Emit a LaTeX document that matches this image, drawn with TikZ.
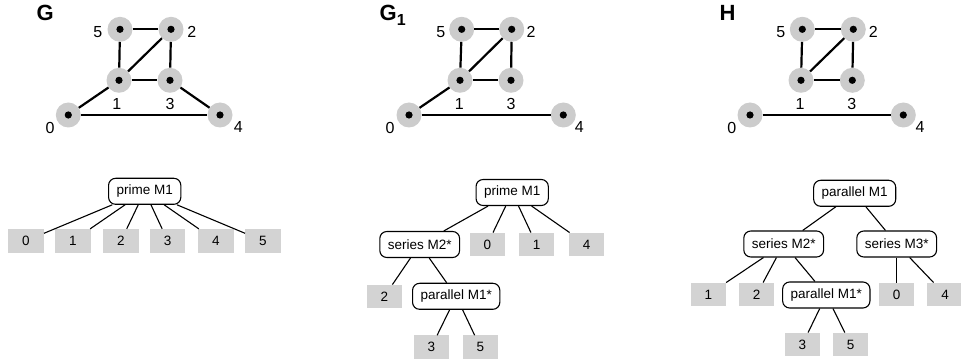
\documentclass[tikz,border=0pt]{standalone}
\usepackage{fontspec}
\setmainfont{Liberation Sans}
\definecolor{vgray}{RGB}{204,204,204}
\definecolor{lgray}{RGB}{211,211,211}
\begin{document}
\begin{tikzpicture}[x=1pt,y=-1pt,
 vtx/.style={circle,fill=vgray,minimum size=25pt,inner sep=0pt,
   path picture={\fill[black] (path picture bounding box.center) circle (3.6pt);}},
 gedge/.style={line width=2.2pt},
 lbl/.style={font=\fontsize{16}{16}\selectfont,inner sep=0pt,anchor=base},
 ttl/.style={font=\fontsize{22}{22}\selectfont\bfseries,inner sep=0pt,anchor=base west},
 modbox/.style={draw,rounded corners=7pt,line width=1.1pt,font=\fontsize{13.5}{13.5}\selectfont,
   minimum height=26pt,inner xsep=8pt,inner ysep=0pt,fill=white},
 leaf/.style={fill=lgray,minimum width=35.5pt,minimum height=23.5pt,inner sep=0pt,
   font=\fontsize{13.5}{13.5}\selectfont},
 tedge/.style={line width=1.1pt}]
\useasboundingbox (0,0) rectangle (961,363);

% ---------- G ----------
\node[ttl] (tG) at (36.5,20.7) {G};
\node[vtx] (a5) at (120,29.3) {};
\node[vtx] (a2) at (171,29.3) {};
\node[vtx] (a1) at (119,80.3) {};
\node[vtx] (a3) at (170,80.3) {};
\node[vtx] (a0) at (68.3,115) {};
\node[vtx] (a4) at (220,115) {};
\node[lbl] (la5) at (97.7,37.3) {5};
\node[lbl] (la2) at (191.7,37.3) {2};
\node[lbl] (la1) at (116.7,109.3) {1};
\node[lbl] (la3) at (170,109.3) {3};
\node[lbl] (la0) at (50,133.3) {0};
\node[lbl] (la4) at (238.3,132.7) {4};
\draw[gedge] (a5) -- (a2);
\draw[gedge] (a5) -- (a1);
\draw[gedge] (a2) -- (a1);
\draw[gedge] (a2) -- (a3);
\draw[gedge] (a1) -- (a3);
\draw[gedge] (a1) -- (a0);
\draw[gedge] (a3) -- (a4);
\draw[gedge] (a0) -- (a4);

% ---------- G1 ----------
\node[ttl] (tG1) at (379.5,20.7) {G\raisebox{-4.5pt}{\fontsize{16}{16}\selectfont 1}};
\node[vtx] (b5) at (461.7,29.3) {};
\node[vtx] (b2) at (511.7,29.3) {};
\node[vtx] (b1) at (460,80.3) {};
\node[vtx] (b3) at (511,80.3) {};
\node[vtx] (b0) at (409,115) {};
\node[vtx] (b4) at (563.3,115) {};
\node[lbl] (lb5) at (440.7,37.3) {5};
\node[lbl] (lb2) at (531,37.3) {2};
\node[lbl] (lb1) at (459.3,109.3) {1};
\node[lbl] (lb3) at (511,109.3) {3};
\node[lbl] (lb0) at (390,133.3) {0};
\node[lbl] (lb4) at (579.3,132.7) {4};
\draw[gedge] (b5) -- (b2);
\draw[gedge] (b5) -- (b1);
\draw[gedge] (b2) -- (b1);
\draw[gedge] (b2) -- (b3);
\draw[gedge] (b1) -- (b3);
\draw[gedge] (b1) -- (b0);
\draw[gedge] (b0) -- (b4);

% ---------- H ----------
\node[ttl] (tH) at (719.5,20.7) {H};
\node[vtx] (c5) at (802.3,29.3) {};
\node[vtx] (c2) at (853.3,29.3) {};
\node[vtx] (c1) at (801,80.3) {};
\node[vtx] (c3) at (852.3,80.3) {};
\node[vtx] (c0) at (750,115) {};
\node[vtx] (c4) at (903.3,115) {};
\node[lbl] (lc5) at (780.7,37.3) {5};
\node[lbl] (lc2) at (873.3,37.3) {2};
\node[lbl] (lc1) at (800,109.3) {1};
\node[lbl] (lc3) at (851.7,109.3) {3};
\node[lbl] (lc0) at (731.7,133.3) {0};
\node[lbl] (lc4) at (920,132.7) {4};
\draw[gedge] (c5) -- (c2);
\draw[gedge] (c5) -- (c1);
\draw[gedge] (c2) -- (c1);
\draw[gedge] (c2) -- (c3);
\draw[gedge] (c1) -- (c3);
\draw[gedge] (c0) -- (c4);

% ---------- Tree of G ----------
\node[modbox] (p1) at (144.7,191.3) {prime M1};
\node[leaf] (p1l0) at (26,240.8) {0};
\node[leaf] (p1l1) at (72.8,240.8) {1};
\node[leaf] (p1l2) at (121,240.8) {2};
\node[leaf] (p1l3) at (167.7,240.8) {3};
\node[leaf] (p1l4) at (216,240.8) {4};
\node[leaf] (p1l5) at (263,240.8) {5};
\foreach \k in {0,...,5} \draw[tedge] (p1) -- (p1l\k);

% ---------- Tree of G1 ----------
\node[modbox] (q1) at (512.2,192.5) {prime M1};
\node[modbox] (q2) at (419.7,244.5) {series M2*};
\node[leaf] (q0) at (487.3,244.5) {0};
\node[leaf] (qa) at (536.5,244.5) {1};
\node[leaf] (qb) at (586.7,244.5) {4};
\node[leaf] (qc) at (384.3,296.5) {2};
\node[modbox] (q3) at (456.2,296.3) {parallel M1*};
\node[leaf] (qd) at (431.3,347.2) {3};
\node[leaf] (qe) at (480.3,347.2) {5};
\draw[tedge] (q1) -- (q2);
\draw[tedge] (q1) -- (q0);
\draw[tedge] (q1) -- (qa);
\draw[tedge] (q1) -- (qb);
\draw[tedge] (q2) -- (qc);
\draw[tedge] (q2) -- (q3);
\draw[tedge] (q3) -- (qd);
\draw[tedge] (q3) -- (qe);

% ---------- Tree of H ----------
\node[modbox] (r1) at (854.7,193.3) {parallel M1};
\node[modbox] (r2) at (783.7,244) {series M2*};
\node[modbox] (r3) at (896.7,244) {series M3*};
\node[leaf] (ra) at (708.3,294.5) {1};
\node[leaf] (rb) at (756.7,294.5) {2};
\node[modbox] (r4) at (826.3,295) {parallel M1*};
\node[leaf] (rc) at (896.7,294.5) {0};
\node[leaf] (rd) at (945,294.5) {4};
\node[leaf] (re) at (802.3,344.5) {3};
\node[leaf] (rf) at (850.7,344.5) {5};
\draw[tedge] (r1) -- (r2);
\draw[tedge] (r1) -- (r3);
\draw[tedge] (r2) -- (ra);
\draw[tedge] (r2) -- (rb);
\draw[tedge] (r2) -- (r4);
\draw[tedge] (r3) -- (rc);
\draw[tedge] (r3) -- (rd);
\draw[tedge] (r4) -- (re);
\draw[tedge] (r4) -- (rf);
\end{tikzpicture}
\end{document}
